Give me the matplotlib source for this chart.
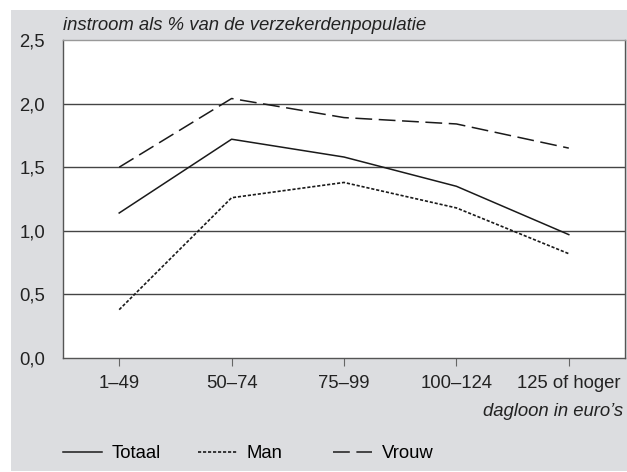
import matplotlib.pyplot as plt
import matplotlib.patches as mpatches

# ── Data ──
categories = ["1–49", "50–74", "75–99", "100–124", "125 of hoger"]
totaal = [1.14, 1.72, 1.58, 1.35, 0.97]
man = [0.38, 1.26, 1.38, 1.18, 0.82]
vrouw = [1.50, 2.04, 1.89, 1.84, 1.65]
y_ticks = [0.0, 0.5, 1.0, 1.5, 2.0, 2.5]
y_labels = ["0,0", "0,5", "1,0", "1,5", "2,0", "2,5"]

plt.rcParams["font.family"] = ["Liberation Sans", "DejaVu Sans"]
FS = 13.3

W, H = 627, 472
fig = plt.figure(figsize=(W / 100, H / 100), dpi=100)
fig.patch.set_facecolor("white")

# grey panel behind everything
bg = mpatches.Rectangle((11 / W, 1 / H), 616 / W, 461 / H,
                        transform=fig.transFigure, facecolor="#dcdde0",
                        edgecolor="none", zorder=-10)
fig.patches.append(bg)

ax = fig.add_axes([63 / W, (H - 358) / H, (625 - 63) / W, (358 - 40) / H])
ax.set_zorder(5)
ax.set_facecolor("white")

x = list(range(1, len(categories) + 1))
line_col = "#1a1a1a"
l1, = ax.plot(x, totaal, color=line_col, lw=1.1, label="Totaal", zorder=3)
l2, = ax.plot(x, man, color=line_col, lw=1.2, dashes=(1.9, 1.1),
              label="Man", zorder=3)
l3, = ax.plot(x, vrouw, color=line_col, lw=1.1, dashes=(11, 4.3),
              label="Vrouw", zorder=3)

ax.set_xlim(0.5, 5.5)
ax.set_ylim(0, 2.5)
ax.set_xticks(x)
ax.set_xticklabels(categories)
ax.set_yticks(y_ticks)
ax.set_yticklabels(y_labels)

ax.tick_params(axis="y", length=0, pad=13, labelsize=FS, colors="#222222")
ax.tick_params(axis="x", length=6, width=0.8, color="#666666", pad=6,
               labelsize=FS, labelcolor="#222222")

for yv in y_ticks[1:-1]:
    ax.axhline(yv, color="#444444", lw=1.0, zorder=1)

for side in ["left", "right", "bottom"]:
    ax.spines[side].set_color("#555555")
    ax.spines[side].set_linewidth(1.0)
ax.spines["top"].set_color("#999999")
ax.spines["top"].set_linewidth(1.0)

# ── Titles ──
fig.text(63 / W, 1 - 25 / H, "instroom als % van de verzekerdenpopulatie",
         fontsize=FS, style="italic", ha="left", va="center", color="#222222")
fig.text(623 / W, 1 - 412 / H, "dagloon in euro’s",
         fontsize=FS, style="italic", ha="right", va="center", color="#222222")

# ── Legend (one entry each, placed like the original) ──
for handle, x_px in [(l1, 63), (l2, 198), (l3, 333)]:
    fig.legend(handles=[handle], loc="center left",
               bbox_to_anchor=(x_px / W, 1 - 454 / H), frameon=False,
               fontsize=FS, handlelength=2.1, handletextpad=0.55,
               borderpad=0, borderaxespad=0)

fig.savefig("out.png", dpi=100, facecolor="white")
plt.close(fig)
